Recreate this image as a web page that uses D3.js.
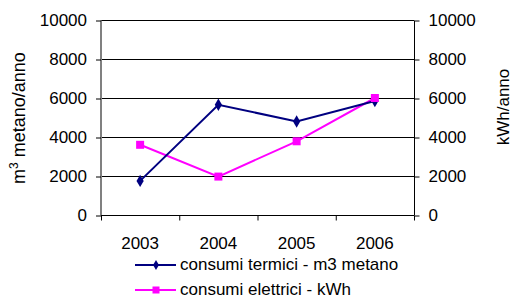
<!DOCTYPE html>
<html>
<head>
<meta charset="utf-8">
<script src="https://cdn.jsdelivr.net/npm/d3@7"></script>
<style>
  body { margin: 0; background: #fff; }
  text { font-family: "Liberation Sans", Arial, sans-serif; fill: #000; }
</style>
</head>
<body>
<svg id="chart" width="513" height="299"></svg>
<script>
const years = ['2003', '2004', '2005', '2006'];
const termici = [1750, 5650, 4800, 5850];
const elettrici = [3600, 1970, 3780, 6000];
const yTicks = [0, 2000, 4000, 6000, 8000, 10000];

const margin = {top: 20, left: 101, right: 99, bottom: 84};
const width = 513, height = 299;
const fontSize = '17px';
const svg = d3.select('#chart');

const x = d3.scaleBand()
  .domain(years)
  .range([margin.left, width - margin.right]);
const y = d3.scaleLinear()
  .domain([0, 10000])
  .range([height - margin.bottom, margin.top]);
const y2 = d3.scaleLinear()
  .domain([0, 10000])
  .range([height - margin.bottom, margin.top]);

// gridlines
svg.append('g')
  .selectAll('line')
  .data(yTicks)
  .enter()
  .append('line')
  .attr('x1', margin.left)
  .attr('x2', width - margin.right)
  .attr('y1', (d) => y(d) + 0.5)
  .attr('y2', (d) => y(d) + 0.5)
  .attr('stroke', '#000')
  .attr('stroke-width', 1);

// left axis
const left = svg.append('g')
  .attr('transform', 'translate(' + margin.left + ',0.5)')
  .call(d3.axisLeft(y).tickValues(yTicks).tickFormat(d3.format('d')).tickSize(5).tickPadding(9));
left.select('.domain').attr('d', 'M0,' + y(10000) + 'V' + y(0))
  .attr('stroke', '#808080').attr('stroke-width', 2);
left.selectAll('.tick line').attr('stroke', '#000');

// right axis
const right = svg.append('g')
  .attr('transform', 'translate(' + (width - margin.right + 0.5) + ',0.5)')
  .call(d3.axisRight(y2).tickValues(yTicks).tickFormat(d3.format('d')).tickSize(5).tickPadding(9));
right.select('.domain').attr('d', 'M0,' + y(10000) + 'V' + y(0)).attr('stroke', '#000');

// bottom axis
const bottom = svg.append('g')
  .attr('transform', 'translate(0,' + (height - margin.bottom + 0.5) + ')');
bottom.append('line')
  .attr('x1', margin.left).attr('x2', width - margin.right)
  .attr('stroke', '#000');
bottom.selectAll('.tk')
  .data(years.concat(['end']))
  .enter()
  .append('line')
  .attr('x1', (d, i) => i < years.length ? x(d) + 0.5 : width - margin.right + 0.5)
  .attr('x2', (d, i) => i < years.length ? x(d) + 0.5 : width - margin.right + 0.5)
  .attr('y1', 0).attr('y2', 5)
  .attr('stroke', '#000');
bottom.selectAll('.lbl')
  .data(years)
  .enter()
  .append('text')
  .attr('x', (d) => x(d) + x.bandwidth() / 2)
  .attr('y', 33)
  .attr('text-anchor', 'middle')
  .style('font-size', fontSize)
  .text((d) => d);

svg.selectAll('.tick text').style('font-size', fontSize);

// axis titles
const lt = svg.append('text')
  .attr('transform', 'translate(25,118) rotate(-90)')
  .attr('text-anchor', 'middle')
  .style('font-size', '18px');
lt.append('tspan').text('m');
lt.append('tspan').attr('dy', -7).style('font-size', '12px').text('3');
lt.append('tspan').attr('dy', 7).text(' metano/anno');

svg.append('text')
  .attr('transform', 'translate(509,107) rotate(-90)')
  .attr('text-anchor', 'middle')
  .style('font-size', fontSize)
  .text('kWh/anno');

// lines
const cx = (d, i) => x(years[i]) + x.bandwidth() / 2;
const line = d3.line().x((d, i) => cx(d, i)).y((d) => y(d));
const line2 = d3.line().x((d, i) => cx(d, i)).y((d) => y2(d));

svg.append('path')
  .datum(elettrici)
  .attr('d', line2)
  .attr('fill', 'none')
  .attr('stroke', '#ff00ff')
  .attr('stroke-width', 2);
svg.append('path')
  .datum(termici)
  .attr('d', line)
  .attr('fill', 'none')
  .attr('stroke', '#000080')
  .attr('stroke-width', 2);

const diamond = d3.symbol().type(d3.symbolDiamond).size(45);
svg.selectAll('.dm')
  .data(termici)
  .enter()
  .append('path')
  .attr('d', diamond)
  .attr('transform', (d, i) => 'translate(' + cx(d, i) + ',' + y(d) + ')')
  .attr('fill', '#000080');
svg.selectAll('.sq')
  .data(elettrici)
  .enter()
  .append('rect')
  .attr('x', (d, i) => cx(d, i) - 4)
  .attr('y', (d) => y2(d) - 4)
  .attr('width', 8)
  .attr('height', 8)
  .attr('fill', '#ff00ff');

// legend
const legend = svg.append('g');
const items = [
  {name: 'consumi termici - m3 metano', color: '#000080', marker: 'diamond'},
  {name: 'consumi elettrici - kWh', color: '#ff00ff', marker: 'square'}
];
const smallDiamond = d3.symbol().type(d3.symbolDiamond).size(30);
items.forEach((it, i) => {
  const ly = 265 + i * 25;
  legend.append('line')
    .attr('x1', 135).attr('x2', 176)
    .attr('y1', ly).attr('y2', ly)
    .attr('stroke', it.color).attr('stroke-width', 2);
  if (it.marker === 'diamond') {
    legend.append('path').attr('d', smallDiamond)
      .attr('transform', 'translate(156,' + ly + ')')
      .attr('fill', it.color);
  } else {
    legend.append('rect').attr('x', 152.5).attr('y', ly - 3.5)
      .attr('width', 7).attr('height', 7).attr('fill', it.color);
  }
  legend.append('text')
    .attr('x', 180).attr('y', ly + 5)
    .style('font-size', fontSize)
    .text(it.name);
});
</script>
</body>
</html>
